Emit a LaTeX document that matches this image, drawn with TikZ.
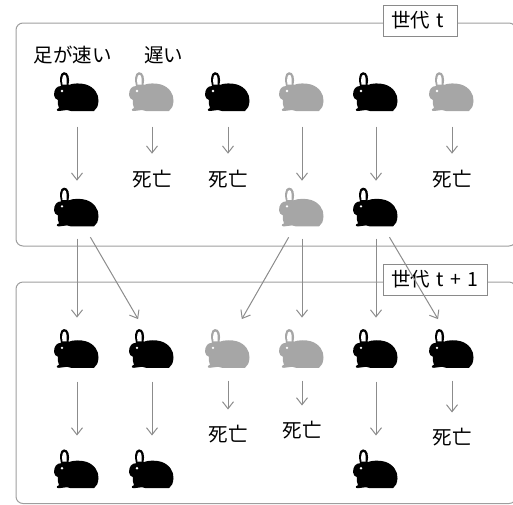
\documentclass[tikz,border=0pt]{standalone}
\usepackage{fontspec}
\setmainfont{Noto Sans CJK JP}
\usepackage{tikz}
\usetikzlibrary{arrows.meta,positioning}
\definecolor{FurGray}{HTML}{A6A6A6}
\definecolor{LineGray}{HTML}{8C8C8C}
\definecolor{FrameGray}{HTML}{9E9E9E}
\definecolor{TagGray}{HTML}{8A8A8A}

% rabbit silhouette, facing left, centred on the origin (y grows downwards)
\newcommand{\bunnyshape}{(-23,2.5) .. controls (-23,-3.5) and (-20,-6.5) .. (-16,-6.5)
  .. controls (-17.5,-12) and (-17.5,-20) .. (-13,-20.3)
  .. controls (-8.5,-20.6) and (-7,-14) .. (-8.5,-7.5)
  .. controls (-4,-9.5) and (4,-9.5) .. (9,-8)
  .. controls (17,-5.5) and (22,1.5) .. (21.5,8.5)
  .. controls (21,13.5) and (20,16.5) .. (17,18.5)
  -- (-6,18.5) -- (-10,17.5) -- (-18,18.5)
  .. controls (-21,18.5) and (-21,16.5) .. (-18,15.5)
  .. controls (-19,12.5) and (-20,9.5) .. (-19,7.5)
  .. controls (-21,6.5) and (-23,5.5) .. (-23,2.5) -- cycle}
\newcommand{\bunnyear}{(-14.5,-8) .. controls (-15.2,-12) and (-15,-17.5) .. (-12.7,-17.7)
  .. controls (-10.4,-17.8) and (-10,-13) .. (-10.5,-8) -- cycle}

\begin{document}
\begin{tikzpicture}[x=1pt,y=-1pt,
  font=\fontsize{19.5}{23}\selectfont,
  frame/.style={draw=FrameGray,line width=1pt,rounded corners=7pt,minimum width=500pt},
  tag/.style={draw=TagGray,fill=white,line width=1pt,minimum height=31pt,text width=#1,
    inner xsep=8pt,inner ysep=0pt,align=left,anchor=west},
  rabbit/.style={minimum width=48pt,minimum height=41pt,inner sep=0pt,
    path picture={
      \begin{scope}[shift={(path picture bounding box.center)}]
        \fill[#1] \bunnyshape;
        \fill[white] \bunnyear;
        \fill[white] (-15,-1.5) circle (1.3pt);
      \end{scope}}},
  dead/.style={inner sep=0pt},
  link/.style={draw=LineGray,line width=1pt,-{Straight Barb[length=7pt,width=11pt]},
    shorten <=10pt,shorten >=11pt}]

\useasboundingbox (0,0) rectangle (513,504);

% the two generations
\node[frame,minimum height=223pt] (gent) at (266,134.5) {};
\node[frame,minimum height=221.5pt] (gennext) at (266,392.75) {};
\node[tag=58pt] (tagt) at ([xshift=-134pt,yshift=2pt]gent.north east) {世代 t};
\node[tag=88pt] (tagnext) at ([xshift=-134pt,yshift=2pt]gennext.north east) {世代 t + 1};

% generation t
\node (fast) at (72.5,55) {足が速い};
\node (slow) at (163.5,55) {遅い};
\node[rabbit=black] (t1) at (77,92.5) {};
\node[rabbit=FurGray] (t2) at (152,92.5) {};
\node[rabbit=black] (t3) at (228,92.5) {};
\node[rabbit=FurGray] (t4) at (302,92.5) {};
\node[rabbit=black] (t5) at (376,92.5) {};
\node[rabbit=FurGray] (t6) at (452,92.5) {};
\node[rabbit=black,below=74pt of t1] (s1) {};
\node[rabbit=FurGray,below=74pt of t4] (s4) {};
\node[rabbit=black,below=74pt of t5] (s5) {};
\node[dead,below=56.5pt of t2] (dt2) {死亡};
\node[dead,below=56.5pt of t3] (dt3) {死亡};
\node[dead,below=56.5pt of t6] (dt6) {死亡};

% generation t+1
\node[rabbit=black,below=100pt of s1] (n1) {};
\node[rabbit=black] (n2) at (n1 -| t2) {};
\node[rabbit=FurGray] (n3) at (n1 -| t3) {};
\node[rabbit=FurGray] (n4) at (n1 -| t4) {};
\node[rabbit=black] (n5) at (n1 -| t5) {};
\node[rabbit=black] (n6) at (n1 -| t6) {};
\node[rabbit=black,below=79pt of n1] (m1) {};
\node[rabbit=black,below=79pt of n2] (m2) {};
\node[rabbit=black,below=79pt of n5] (m5) {};
\node[dead,below=54.5pt of n3] (dn3) {死亡};
\node[dead,below=50.5pt of n4] (dn4) {死亡};
\node[dead,below=57.5pt of n6] (dn6) {死亡};

% survive or die within generation t
\draw[link,shorten <=13.5pt,shorten >=6.5pt] (t1) -- (s1);
\draw[link,shorten <=13.5pt,shorten >=16pt] (t2) -- (dt2);
\draw[link,shorten <=13.5pt,shorten >=16pt] (t3) -- (dt3);
\draw[link,shorten <=13.5pt,shorten >=6.5pt] (t4) -- (s4);
\draw[link,shorten <=13.5pt,shorten >=6.5pt] (t5) -- (s5);
\draw[link,shorten <=13.5pt,shorten >=16pt] (t6) -- (dt6);

% offspring
\draw[link] (s1) -- (n1);
\draw[link] (s1.-68) -- (n2.112);
\draw[link] (s4.-112) -- (n3.68);
\draw[link] (s4) -- (n4);
\draw[link] (s5) -- (n5);
\draw[link] (s5.-68) -- (n6.112);

% survive or die within generation t+1
\draw[link,shorten <=11.5pt,shorten >=13.5pt] (n1) -- (m1);
\draw[link,shorten <=11.5pt,shorten >=13.5pt] (n2) -- (m2);
\draw[link,shorten <=10.5pt,shorten >=15pt] (n3) -- (dn3);
\draw[link,shorten <=10.5pt,shorten >=15pt] (n4) -- (dn4);
\draw[link,shorten <=11.5pt,shorten >=13.5pt] (n5) -- (m5);
\draw[link,shorten <=10.5pt,shorten >=15pt] (n6) -- (dn6);
\end{tikzpicture}
\end{document}
